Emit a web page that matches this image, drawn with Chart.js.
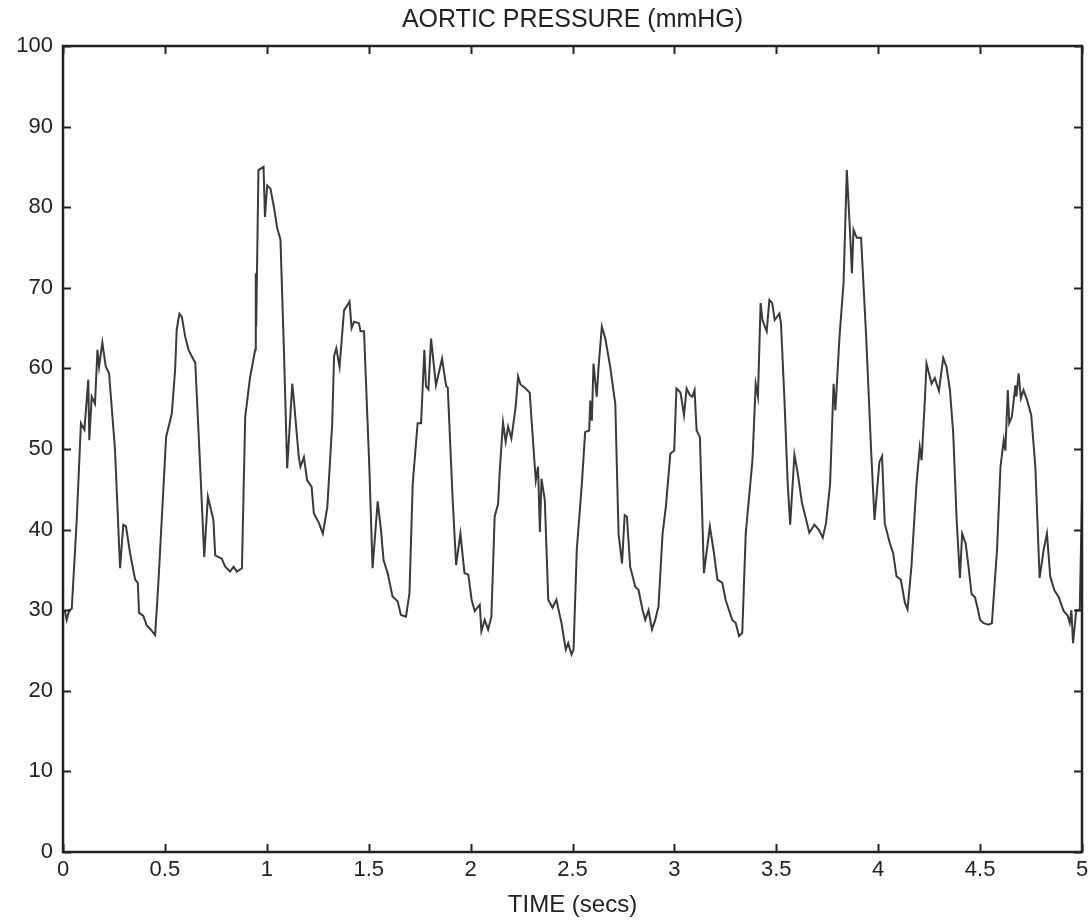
<!DOCTYPE html>
<html>
<head>
<meta charset="utf-8">
<script src="https://cdn.jsdelivr.net/npm/chart.js@4/dist/chart.umd.min.js"></script>
<style>
  html, body { margin: 0; padding: 0; background: #fff; }
  #wrap { width: 1090px; height: 920px; }
</style>
</head>
<body>
<div id="wrap"><canvas id="c"></canvas></div>
<script>
// Время (с) и давление (мм рт. ст.)
const timeSecs = [
  0.000, 0.010, 0.018, 0.030, 0.043, 0.067, 0.088, 0.105, 0.124, 0.129, 0.141, 0.157, 0.169, 0.177, 0.193, 0.210,
  0.226, 0.255, 0.280, 0.296, 0.309, 0.329, 0.354, 0.367, 0.373, 0.394, 0.411, 0.427, 0.452, 0.468, 0.506, 0.534,
  0.550, 0.558, 0.571, 0.583, 0.599, 0.616, 0.640, 0.649, 0.673, 0.693, 0.711, 0.738, 0.747, 0.779, 0.796, 0.820,
  0.837, 0.853, 0.878, 0.894, 0.918, 0.943, 0.946, 0.948, 0.959, 0.984, 0.991, 1.002, 1.018, 1.035, 1.051, 1.067,
  1.084, 1.100, 1.125, 1.133, 1.157, 1.165, 1.182, 1.198, 1.220, 1.231, 1.256, 1.275, 1.297, 1.321, 1.330, 1.341,
  1.357, 1.379, 1.406, 1.416, 1.428, 1.452, 1.460, 1.477, 1.503, 1.519, 1.544, 1.560, 1.573, 1.593, 1.617, 1.642,
  1.658, 1.683, 1.700, 1.716, 1.740, 1.757, 1.773, 1.781, 1.793, 1.806, 1.830, 1.860, 1.880, 1.888, 1.912, 1.929,
  1.950, 1.970, 1.989, 2.005, 2.020, 2.045, 2.053, 2.069, 2.086, 2.102, 2.118, 2.135, 2.143, 2.159, 2.172, 2.184,
  2.200, 2.221, 2.233, 2.245, 2.266, 2.290, 2.315, 2.320, 2.331, 2.340, 2.348, 2.364, 2.381, 2.402, 2.421, 2.446,
  2.467, 2.479, 2.495, 2.505, 2.521, 2.546, 2.562, 2.582, 2.587, 2.595, 2.603, 2.619, 2.628, 2.644, 2.661, 2.685,
  2.710, 2.726, 2.743, 2.756, 2.767, 2.783, 2.808, 2.824, 2.844, 2.857, 2.873, 2.890, 2.906, 2.922, 2.942, 2.958,
  2.980, 2.999, 3.010, 3.030, 3.047, 3.060, 3.076, 3.088, 3.099, 3.109, 3.125, 3.145, 3.174, 3.194, 3.211, 3.235,
  3.251, 3.268, 3.284, 3.301, 3.317, 3.333, 3.350, 3.383, 3.399, 3.410, 3.423, 3.432, 3.453, 3.466, 3.480, 3.492,
  3.515, 3.523, 3.540, 3.556, 3.568, 3.589, 3.605, 3.626, 3.646, 3.662, 3.687, 3.708, 3.728, 3.744, 3.764, 3.781,
  3.790, 3.810, 3.830, 3.846, 3.862, 3.871, 3.879, 3.895, 3.916, 3.941, 3.965, 3.982, 4.006, 4.019, 4.032, 4.057,
  4.073, 4.090, 4.111, 4.131, 4.144, 4.163, 4.188, 4.204, 4.213, 4.229, 4.237, 4.253, 4.262, 4.278, 4.298, 4.319,
  4.335, 4.352, 4.368, 4.385, 4.401, 4.412, 4.429, 4.445, 4.458, 4.475, 4.490, 4.500, 4.517, 4.542, 4.558, 4.583,
  4.600, 4.616, 4.624, 4.636, 4.643, 4.656, 4.673, 4.678, 4.689, 4.700, 4.713, 4.730, 4.751, 4.771, 4.792, 4.812,
  4.828, 4.844, 4.864, 4.886, 4.910, 4.930, 4.940, 4.948, 4.956, 4.972, 4.989, 5.000
];
const pressure = [
  30.0, 29.8, 28.8, 30.0, 30.2, 41.0, 53.2, 52.4, 58.6, 51.1, 56.5, 55.6, 62.3, 60.2, 63.2, 60.2,
  59.4, 50.0, 35.2, 40.6, 40.4, 37.1, 33.8, 33.4, 29.7, 29.3, 28.1, 27.7, 26.9, 33.4, 51.5, 54.4,
  59.8, 64.8, 66.8, 66.4, 64.0, 62.3, 61.1, 60.7, 47.8, 36.6, 44.1, 41.2, 36.8, 36.4, 35.4, 34.8,
  35.4, 34.8, 35.2, 54.0, 58.9, 62.3, 71.8, 65.2, 84.6, 85.0, 78.8, 82.7, 82.3, 80.0, 77.4, 76.0,
  62.3, 47.6, 58.1, 56.0, 49.0, 47.8, 49.0, 46.1, 45.3, 42.0, 40.8, 39.5, 42.8, 53.2, 61.5, 62.5,
  60.2, 67.2, 68.3, 65.0, 65.8, 65.6, 64.6, 64.6, 47.8, 35.2, 43.5, 40.0, 36.2, 34.6, 31.7, 31.1,
  29.4, 29.2, 32.1, 45.7, 53.2, 53.2, 62.3, 57.8, 57.4, 63.7, 57.9, 61.2, 57.8, 57.6, 43.7, 35.6,
  39.5, 34.6, 34.4, 31.3, 29.9, 30.7, 27.4, 28.8, 27.6, 29.2, 41.6, 43.2, 47.3, 53.3, 50.9, 52.8,
  51.3, 55.2, 59.0, 58.0, 57.6, 57.0, 47.8, 46.1, 47.8, 39.7, 46.3, 43.7, 31.3, 30.3, 31.3, 28.4,
  25.1, 25.9, 24.5, 25.1, 37.5, 45.7, 52.1, 52.3, 56.0, 53.5, 60.6, 56.5, 60.2, 65.2, 63.7, 60.2,
  55.6, 39.5, 35.8, 41.8, 41.6, 35.4, 32.9, 32.5, 30.0, 28.8, 30.0, 27.6, 28.8, 30.5, 39.5, 42.8,
  49.4, 49.8, 57.5, 57.0, 54.2, 57.5, 56.7, 56.5, 57.3, 52.3, 51.5, 34.6, 40.4, 37.1, 33.8, 33.4,
  31.3, 30.0, 28.8, 28.4, 26.8, 27.2, 39.5, 48.6, 58.1, 56.5, 68.1, 66.0, 64.6, 68.5, 68.1, 66.0,
  66.8, 65.6, 56.1, 45.7, 40.6, 49.3, 47.0, 43.3, 41.3, 39.6, 40.6, 40.0, 39.0, 40.8, 45.7, 58.1,
  54.8, 63.9, 70.6, 84.6, 76.8, 71.8, 77.2, 76.2, 76.2, 63.9, 50.0, 41.2, 48.4, 49.1, 40.8, 38.3,
  37.1, 34.2, 33.8, 30.9, 30.1, 35.4, 45.7, 50.2, 48.6, 56.1, 60.6, 59.0, 58.1, 58.8, 57.2, 61.3,
  60.2, 57.3, 52.0, 41.2, 34.0, 39.5, 38.3, 35.0, 32.0, 31.6, 30.0, 28.8, 28.4, 28.2, 28.4, 37.5,
  47.8, 51.1, 49.8, 57.3, 53.2, 54.0, 57.9, 56.5, 59.4, 56.3, 57.3, 56.1, 54.2, 47.8, 34.0, 37.5,
  39.5, 34.2, 32.5, 31.6, 29.9, 29.3, 28.4, 30.0, 25.9, 30.0, 30.0, 44.1
];

const xMin = 0, xMax = 5, xStep = 0.5;
const yMin = 0, yMax = 100, yStep = 10;

const fontFamily = '"Liberation Sans", Arial, sans-serif';

// Рамка и внутренние засечки, как в MATLAB
const framePlugin = {
    id: 'frame',
    afterDraw(chart) {
        const { ctx, chartArea: a, scales } = chart;
        const len = 8;
        ctx.save();
        ctx.strokeStyle = '#222';
        ctx.lineWidth = 2;
        ctx.beginPath();
        scales.x.ticks.forEach(t => {
            const px = Math.round(scales.x.getPixelForValue(t.value)) + 0.5;
            ctx.moveTo(px, a.bottom); ctx.lineTo(px, a.bottom - len);
            ctx.moveTo(px, a.top); ctx.lineTo(px, a.top + len);
        });
        scales.y.ticks.forEach(t => {
            const py = Math.round(scales.y.getPixelForValue(t.value)) + 0.5;
            ctx.moveTo(a.left, py); ctx.lineTo(a.left + len, py);
            ctx.moveTo(a.right, py); ctx.lineTo(a.right - len, py);
        });
        ctx.stroke();
        ctx.lineWidth = 2.5;
        ctx.strokeRect(a.left, a.top, a.right - a.left, a.bottom - a.top);
        ctx.restore();
    }
};

new Chart(document.getElementById('c'), {
    type: 'line',
    data: {
        datasets: [{
            data: timeSecs.map((t, i) => ({ x: t, y: pressure[i] })),
            borderColor: '#3a3a3a',
            borderWidth: 2,
            pointRadius: 0,
            tension: 0,
            fill: false
        }]
    },
    options: {
        responsive: true,
        maintainAspectRatio: false,
        animation: false,
        layout: { padding: 0 },
        plugins: {
            legend: { display: false },
            tooltip: { enabled: false }
        },
        scales: {
            x: {
                type: 'linear',
                min: xMin,
                max: xMax,
                grid: { display: false, drawTicks: false },
                border: { display: false },
                ticks: {
                    stepSize: xStep,
                    color: '#222',
                    padding: 5,
                    maxRotation: 0,
                    font: { family: fontFamily, size: 22 },
                    callback: v => String(Math.round(v * 10) / 10)
                },
                title: {
                    display: true,
                    text: 'TIME (secs)',
                    color: '#222',
                    font: { family: fontFamily, size: 24 },
                    padding: { top: 2, bottom: 0 }
                },
                afterFit: s => { s.height = 68; s.paddingLeft = 0; s.paddingRight = 8; }
            },
            // верхняя ось только для заголовка над областью графика
            xTop: {
                type: 'linear',
                position: 'top',
                min: xMin,
                max: xMax,
                grid: { display: false, drawTicks: false },
                border: { display: false },
                ticks: { display: false },
                title: {
                    display: true,
                    text: 'AORTIC PRESSURE (mmHG)',
                    color: '#222',
                    font: { family: fontFamily, size: 25 },
                    padding: { top: 5, bottom: 0 }
                },
                afterFit: s => { s.height = 46; s.paddingLeft = 0; s.paddingRight = 0; }
            },
            y: {
                min: yMin,
                max: yMax,
                grid: { display: false, drawTicks: false },
                border: { display: false },
                ticks: {
                    stepSize: yStep,
                    color: '#222',
                    padding: 10,
                    font: { family: fontFamily, size: 22 }
                },
                afterFit: s => { s.width = 63; }
            }
        }
    },
    plugins: [framePlugin]
});
</script>
</body>
</html>
